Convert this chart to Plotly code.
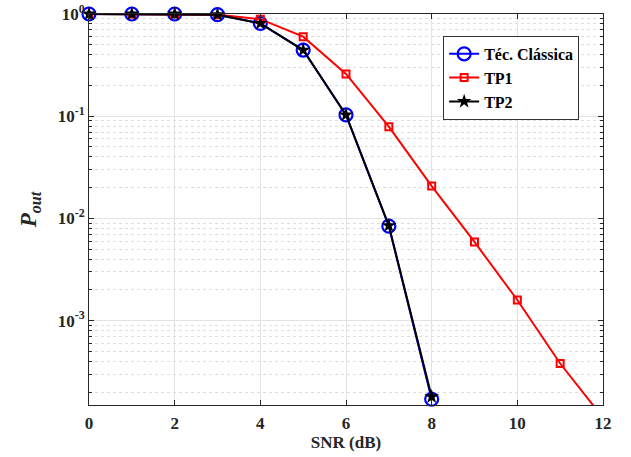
import plotly.graph_objects as go

snr = [0, 1, 2, 3, 4, 5, 6, 7, 8]
snr_tp1 = [0, 1, 2, 3, 4, 5, 6, 7, 8, 9, 10, 11, 12]
p_classica = [1.0, 1.0, 1.0, 0.985, 0.81, 0.444, 0.103, 0.0084, 1.70e-4]
p_tp1 = [1.0, 1.0, 1.0, 0.985, 0.89, 0.60, 0.259, 0.0789, 0.0207, 0.00588, 0.00159, 3.8e-4, 1.12e-4]
p_tp2 = [1.0, 1.0, 1.0, 0.985, 0.81, 0.444, 0.103, 0.0085, 1.80e-4]

ytick_vals = [1e-3, 1e-2, 1e-1, 1]
ytick_text = ["10<sup>-3</sup>", "10<sup>-2</sup>", "10<sup>-1</sup>", "10<sup>0</sup>"]
xtick_vals = [0, 2, 4, 6, 8, 10, 12]
minor_vals = [m * 10.0 ** e for e in range(-4, 0) for m in range(2, 10)]

fig = go.Figure()
fig.add_trace(go.Scatter(
    x=snr, y=p_classica, name="Téc. Clássica", mode="lines+markers",
    line=dict(color="#0000ff", width=2),
    marker=dict(symbol="circle-open", size=13, color="#0000ff", line=dict(width=2.2, color="#0000ff")),
    cliponaxis=False,
))
fig.add_trace(go.Scatter(
    x=snr_tp1, y=p_tp1, name="TP1", mode="lines+markers",
    line=dict(color="#ff0000", width=2),
    marker=dict(symbol="square-open", size=7, color="#ff0000", line=dict(width=2, color="#ff0000")),
))
fig.add_trace(go.Scatter(
    x=snr, y=p_tp2, name="TP2", mode="lines+markers",
    line=dict(color="#000000", width=2),
    marker=dict(symbol="star", size=11, color="#000000"),
    cliponaxis=False,
))

axis_font = dict(family="Liberation Serif", size=17, color="#262626", weight="bold")
fig.update_layout(
    width=631, height=457,
    margin=dict(l=89, r=28, t=14, b=52, autoexpand=False),
    paper_bgcolor="white", plot_bgcolor="white",
    font=dict(family="Liberation Serif", color="#262626", weight="bold"),
    showlegend=True,
    legend=dict(
        x=0.689, y=0.944, xanchor="left", yanchor="top",
        bgcolor="white", bordercolor="#333333", borderwidth=1,
        font=dict(family="Liberation Serif", size=16, color="#000000", weight="bold"),
        tracegroupgap=2,
    ),
    xaxis=dict(
        range=[0, 12], tickvals=xtick_vals, ticktext=[str(v) for v in xtick_vals],
        ticks="inside", ticklen=5, tickcolor="#262626", ticklabelstandoff=3,
        showline=True, linecolor="#262626", linewidth=1, mirror="ticks",
        showgrid=True, gridcolor="#e3e3e3", gridwidth=1,
        zeroline=False, tickfont=axis_font, automargin=False,
        title=dict(text="SNR (dB)", font=dict(family="Liberation Serif", size=17, color="#262626", weight="bold"), standoff=2),
    ),
    yaxis=dict(
        type="log", range=[-3.826, 0],
        tickvals=ytick_vals, ticktext=ytick_text,
        ticks="inside", ticklen=5, tickcolor="#262626",
        showline=True, linecolor="#262626", linewidth=1, mirror="ticks",
        showgrid=True, gridcolor="#e3e3e3", gridwidth=1,
        zeroline=False, tickfont=axis_font, automargin=False,
        minor=dict(tickvals=minor_vals, ticks="inside", ticklen=3, tickcolor="#262626", showgrid=True,
                   gridcolor="#dedede", griddash="dot", gridwidth=1),
        title=dict(text="<i>P</i><sub><i>out</i></sub>", font=dict(family="Liberation Serif", size=23, color="#262626", weight="bold"), standoff=14),
    ),
)

fig.write_html("out.html", config={"displayModeBar": False},
               post_script="document.body.style.margin='0';document.body.style.padding='0';")
